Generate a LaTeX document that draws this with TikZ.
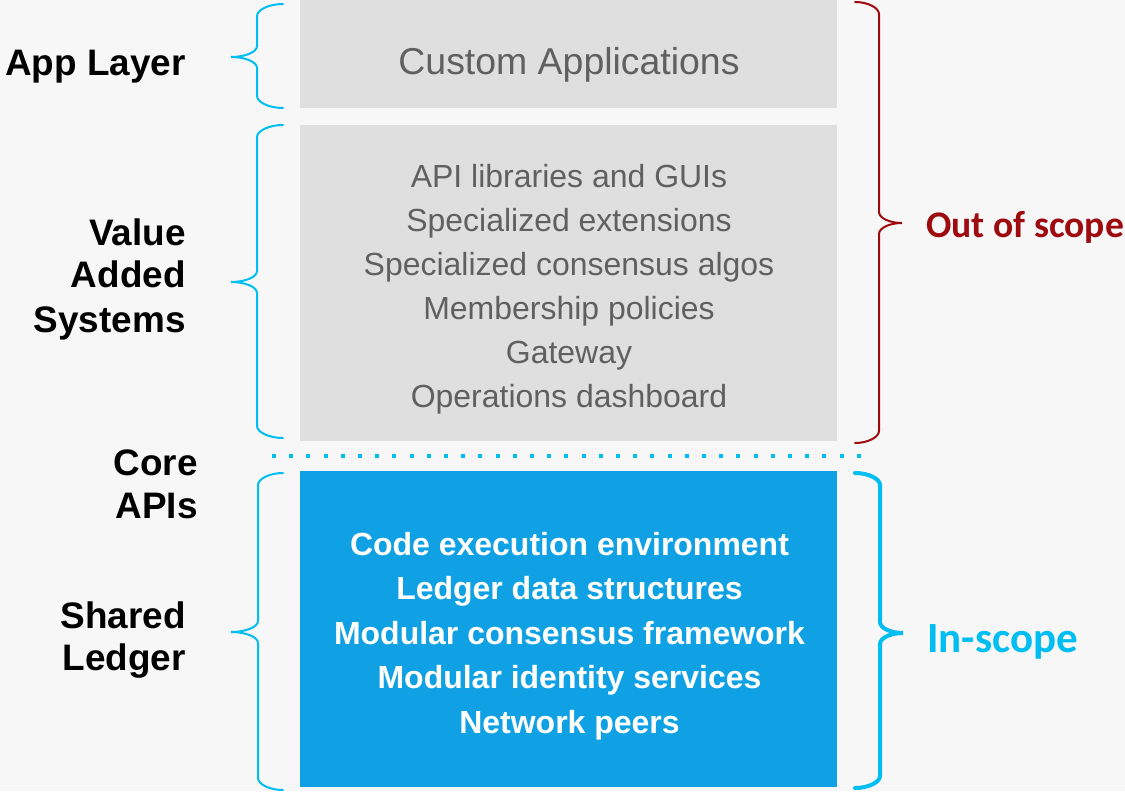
\documentclass[tikz,border=0pt]{standalone}
\usepackage{fontspec}
\setmainfont{Liberation Sans}
\newfontfamily\calibri{Carlito}

\definecolor{bggray}{HTML}{F7F7F7}
\definecolor{boxgray}{HTML}{DFDFDF}
\definecolor{textgray}{HTML}{606060}
\definecolor{coreblue}{HTML}{0FA1E3}
\definecolor{bracecyan}{HTML}{00BDF2}
\definecolor{scopered}{HTML}{9E0B0F}

% curly brace: end x, spine x, tip x, top y, tip y, bottom y
\newcommand{\curly}[6]{%
  (#1,#4) .. controls ({#2+0.45*(#1-#2)},#4) and (#2,{#4+6}) .. (#2,{#4+12})
  -- (#2,{#5-11}) .. controls (#2,{#5-5}) and ({#2+0.45*(#3-#2)},#5) .. (#3,#5)
  .. controls ({#2+0.45*(#3-#2)},#5) and (#2,{#5+5}) .. (#2,{#5+11})
  -- (#2,{#6-12}) .. controls (#2,{#6-6}) and ({#2+0.45*(#1-#2)},#6) .. (#1,#6)}

\tikzset{
  layer/.style={anchor=base east, inner sep=0pt,
    font=\bfseries\fontsize{21}{25}\selectfont},
  graybox/.style={fill=boxgray, inner sep=0pt},
  bluebox/.style={fill=coreblue, inner sep=0pt},
  valuetext/.style={anchor=base, inner sep=0pt, text=textgray,
    font=\fontsize{18.2}{21}\selectfont},
  coretext/.style={anchor=base, inner sep=0pt, text=white,
    font=\bfseries\fontsize{18.2}{21}\selectfont},
  thinbrace/.style={draw=bracecyan, line width=0.04cm, line cap=round},
}

\begin{document}
\begin{tikzpicture}[x=0.02cm, y=-0.02cm]

    \fill[bggray] (0,0) rectangle (1125,791);
    \useasboundingbox (0,0) rectangle (1125,791);

    % boxes
    \node[graybox, minimum width=10.74cm, minimum height=2.16cm] (appbox) at (568.5,54) {};
    \node[graybox, minimum width=10.74cm, minimum height=6.32cm] (valuebox) at (568.5,283) {};
    \node[bluebox, minimum width=10.74cm, minimum height=6.32cm] (corebox) at (568.5,629) {};

    \node[valuetext, font=\fontsize{21.3}{25}\selectfont] (custom) at (569,74) {Custom Applications};

    \foreach \txt [count=\i] in {API libraries and GUIs, Specialized extensions,
      Specialized consensus algos, Membership policies, Gateway, Operations dashboard}
      \node[valuetext] (val\i) at (569,{187+44*(\i-1)}) {\txt};

    \foreach \txt [count=\i] in {Code execution environment, Ledger data structures,
      Modular consensus framework, Modular identity services, Network peers}
      \node[coretext] (core\i) at (569.5,{555+44.5*(\i-1)}) {\txt};

    % layer names
    \node[layer] (app) at (186,75) {App Layer};
    \node[layer] (value) at (186,245) {Value};
    \node[layer] (added) at (186,287) {Added};
    \node[layer] (systems) at (186,332) {Systems};
    \node[layer] (core) at (198,475) {Core};
    \node[layer] (apis) at (198,518) {APIs};
    \node[layer] (shared) at (186,628) {Shared};
    \node[layer] (ledger) at (186,670) {Ledger};

    % braces
    \draw[thinbrace] \curly{283}{257}{231}{4}{57}{108};
    \draw[thinbrace] \curly{283}{257}{231}{125}{282}{438};
    \draw[thinbrace] \curly{283}{258}{231}{473}{632}{790};

    \draw[draw=scopered, line width=0.04cm, line cap=round] \curly{855}{879}{902}{2}{223}{443};
    \draw[draw=bracecyan, line width=0.08cm, line cap=round] \curly{855}{880}{903}{473}{633}{788};

    \draw[draw=bracecyan, line width=0.08cm, dash pattern=on 0.08cm off 0.264cm] (272,456) -- (868,456);

    \node[anchor=base west, inner sep=0pt, text=scopered,
      font=\calibri\bfseries\fontsize{21.4}{25}\selectfont] (out) at (926,237) {Out of scope};
    \node[anchor=base west, inner sep=0pt, text=bracecyan,
      font=\calibri\bfseries\fontsize{24.5}{28}\selectfont] (in) at (927,652) {In-scope};

  \end{tikzpicture}
\end{document}
